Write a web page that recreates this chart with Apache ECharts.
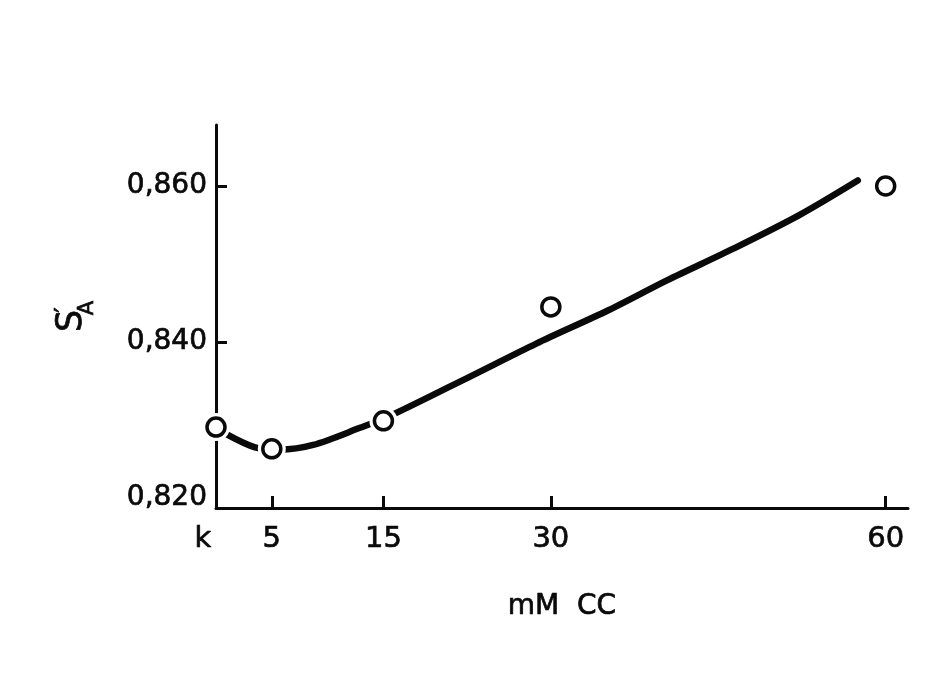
<!DOCTYPE html>
<html>
<head>
<meta charset="utf-8">
<script src="https://cdn.jsdelivr.net/npm/echarts@6/dist/echarts.min.js"></script>
<style>html,body{margin:0;padding:0;background:#fff;}#c{width:932px;height:690px;}</style>
</head>
<body>
<div id="c"></div>
<script>
// Measured points (circles)
const pointX = [0, 5, 15, 30, 60];
const pointY = [0.8291, 0.8263, 0.8299, 0.8445, 0.8600];
// Fitted curve
const curveX = [0.8, 3.5, 5.7, 8.7, 12.9, 15.7, 22.8, 28.7, 35.2, 40.4, 46.4, 52.3, 57.5];
const curveY = [0.8283, 0.8265, 0.8262, 0.8268, 0.8290, 0.8306, 0.8356, 0.8398, 0.8441, 0.8479, 0.8520, 0.8563, 0.8607];
// Tick values and labels
const xTicks = [0, 5, 15, 30, 60];
const xTickLabels = ['k', '5', '15', '30', '60'];
const yTicks = [0.820, 0.840, 0.860];
const yTickLabels = ['0,820', '0,840', '0,860'];

const FONT = 'DejaVu Sans';
const INK = '#0a0a0a';
const pts = pointX.map((x, i) => [x, pointY[i]]);
const curve = curveX.map((x, i) => [x, curveY[i]]);
const bold = {textBorderColor: INK, textBorderWidth: 0.7};

const chart = echarts.init(document.getElementById('c'), null, {renderer: 'canvas'});
chart.setOption({
  backgroundColor: '#ffffff',
  animation: false,
  grid: {left: 216, right: 24, top: 125, bottom: 182, containLabel: false},
  xAxis: {
    type: 'value', min: 0, max: 62,
    name: 'mM  CC', nameLocation: 'middle', nameGap: 85,
    nameTextStyle: Object.assign({fontFamily: FONT, fontSize: 28, color: INK}, bold),
    axisLine: {onZero: false, lineStyle: {color: INK, width: 3}},
    axisTick: {show: true, inside: true, length: 12, lineStyle: {color: INK, width: 3},
               customValues: xTicks.slice(1)},
    axisLabel: Object.assign({
      customValues: xTicks, margin: 17,
      fontFamily: FONT, fontSize: 29, color: INK,
      formatter: v => {
        const i = xTicks.indexOf(v);
        if (i === 0) return '{k|' + xTickLabels[0] + '}';
        return i >= 0 ? xTickLabels[i] : '';
      },
      rich: {k: Object.assign({fontFamily: FONT, fontSize: 29, color: INK, padding: [0, 26, 6, 0]}, bold)}
    }, bold),
    splitLine: {show: false}
  },
  yAxis: {
    type: 'value', min: 0.81872, max: 0.86782,
    name: '{s|S}{p|\u2032}{a|A}', nameLocation: 'middle', nameGap: 118, nameRotate: 90,
    nameTextStyle: {
      fontFamily: FONT, color: INK,
      rich: {
        s: Object.assign({fontFamily: FONT, fontSize: 35, color: INK, verticalAlign: 'top', lineHeight: 44}, bold),
        p: Object.assign({fontFamily: FONT, fontSize: 24, color: INK, verticalAlign: 'top', lineHeight: 44, padding: [0, 0, 0, -3]}, bold),
        a: Object.assign({fontFamily: FONT, fontSize: 21, color: INK, verticalAlign: 'bottom', lineHeight: 44, padding: [0, 0, 0, -8]}, bold)
      }
    },
    axisLine: {onZero: false, lineStyle: {color: INK, width: 3}},
    axisTick: {show: true, inside: true, length: 11, lineStyle: {color: INK, width: 3},
               customValues: yTicks.slice(1)},
    axisLabel: Object.assign({
      customValues: yTicks, margin: 9,
      fontFamily: FONT, fontSize: 28, color: INK,
      formatter: v => {
        let best = 0;
        yTicks.forEach((t, i) => { if (Math.abs(t - v) < Math.abs(yTicks[best] - v)) best = i; });
        return yTickLabels[best];
      }
    }, bold),
    splitLine: {show: false}
  },
  series: [
    {
      type: 'line', data: curve, smooth: 0.3, showSymbol: false, z: 2,
      lineStyle: {color: INK, width: 6.5, cap: 'round'}
    },
    {
      type: 'scatter', data: pts, symbol: 'circle', symbolSize: 28, z: 3,
      itemStyle: {color: '#ffffff', borderWidth: 0, opacity: 1}
    },
    {
      type: 'scatter', data: pts, symbol: 'circle', symbolSize: 18, z: 4,
      itemStyle: {color: '#ffffff', borderColor: INK, borderWidth: 3.5, opacity: 1}
    }
  ]
});
</script>
</body>
</html>
